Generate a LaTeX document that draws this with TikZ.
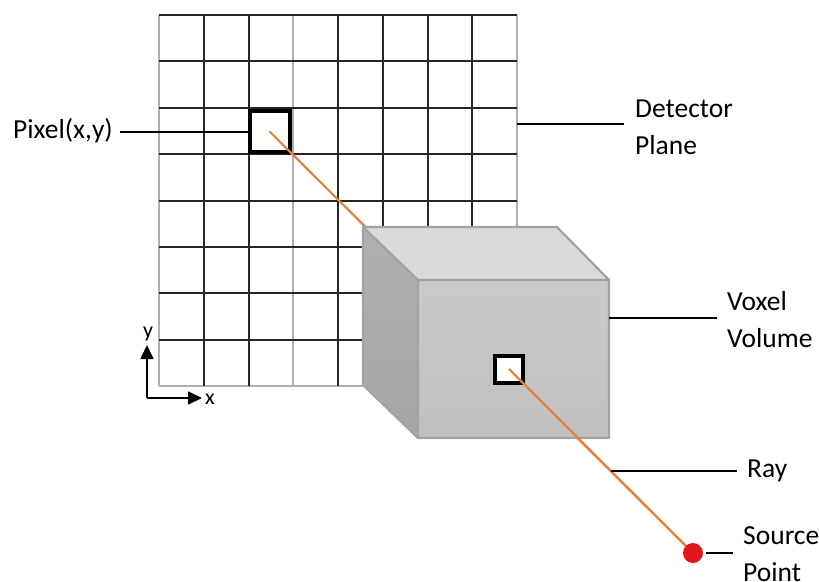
\documentclass[tikz,border=0pt]{standalone}
\usepackage{fontspec}
\setmainfont{Carlito}
\usetikzlibrary{arrows.meta}

\definecolor{rayorange}{HTML}{E5823E}
\definecolor{srcred}{HTML}{E3141F}
\definecolor{griddark}{HTML}{262626}
\definecolor{gridlight}{HTML}{B0B0B0}
\definecolor{cubeedge}{HTML}{A2A2A2}

\begin{document}
\begin{tikzpicture}[x=1pt,y=-1pt,
  lbl/.style={font=\fontsize{27.5}{37}\selectfont, inner sep=0pt, align=left, anchor=west},
  axlbl/.style={font=\fontsize{22}{24}\selectfont, inner sep=0pt},
  leader/.style={line width=2pt, black},
  gdark/.style={line width=2pt, griddark},
  glight/.style={line width=2pt, gridlight},
  ray/.style={line width=2.2pt, rayorange},
  cell/.style={draw=black, line width=4pt, fill=white, inner sep=0pt},
  axis/.style={line width=1.7pt, -{Triangle[length=14pt,width=13pt]}},
]
\useasboundingbox (0,0) rectangle (819,581);

% detector grid: 8 x 8 cells
\foreach \i in {0,3,8}
  \draw[glight] (159+\i*44.75,15) -- (159+\i*44.75,386);
\draw[glight] (159,386) -- (517,386);
\foreach \i in {1,2,4,5,6,7}
  \draw[gdark] (159+\i*44.75,15) -- (159+\i*44.75,386);
\foreach \j in {0,...,7}
  \draw[gdark] (159,15+\j*46.375) -- (517,15+\j*46.375);
\coordinate (gridR) at (517,124);

% detector pixel and source position
\node[cell, minimum width=40.2pt, minimum height=41pt] (pixel) at (269.6,131.5) {};
\coordinate (srcpt) at (693,553);

% ray behind the volume
\draw[ray] (pixel.center) -- (srcpt);

% voxel volume (cube)
\shade[top color=gray!62, bottom color=gray!70]
  (363,227) -- (418,280) -- (418,438) -- (363,385) -- cycle;
\fill[gray!29] (363,227) -- (557,227) -- (609,280) -- (418,280) -- cycle;
\shade[top color=gray!42, bottom color=gray!50] (418,280) rectangle (609,438);
\draw[cubeedge, line width=2.2pt, line join=round]
  (363,227) -- (557,227) -- (609,280) -- (609,438) -- (418,438) -- (363,385) -- cycle
  (363,227) -- (418,280) -- (609,280)
  (418,280) -- (418,438);
\coordinate (cubeR) at (609,318);

% voxel and ray in front of the volume
\node[cell, minimum width=28pt, minimum height=27pt] (voxel) at (509,369) {};
\draw[ray] (voxel.center) -- coordinate[pos=0.554] (raypt) (srcpt);
\node[circle, fill=srcred, minimum size=20pt, inner sep=0pt] (src) at (srcpt) {};

% labels and leader lines
\node[lbl, anchor=east] (pixlbl) at (113,131) {Pixel(x,y)};
\draw[leader, shorten >=7pt] (pixel.west) -- (pixel.west -| pixlbl.east);

\node[lbl] (detlbl) at (635,127) {Detector\\Plane};
\draw[leader, shorten >=11pt] (gridR) -- (gridR -| detlbl.west);

\node[lbl] (vollbl) at (727,320) {Voxel\\Volume};
\draw[leader, shorten >=10pt] (cubeR) -- (cubeR -| vollbl.west);

\node[lbl] (raylbl) at (747,471) {Ray};
\draw[leader, shorten >=10pt] (raypt) -- (raypt -| raylbl.west);

\node[lbl] (srclbl) at (743,554) {Source\\Point};
\draw[leader, shorten <=3pt, shorten >=10pt] (src.east) -- (src.east -| srclbl.west);

% image axes
\coordinate (origin) at (147,398);
\coordinate (ytip) at (147,345);
\coordinate (xtip) at (202,398);
\draw[axis] (origin) -- (ytip);
\draw[axis] (origin) -- (xtip);
\node[axlbl] (ylbl) at (148,334) {y};
\node[axlbl] (xlbl) at (210,399) {x};
\end{tikzpicture}
\end{document}
